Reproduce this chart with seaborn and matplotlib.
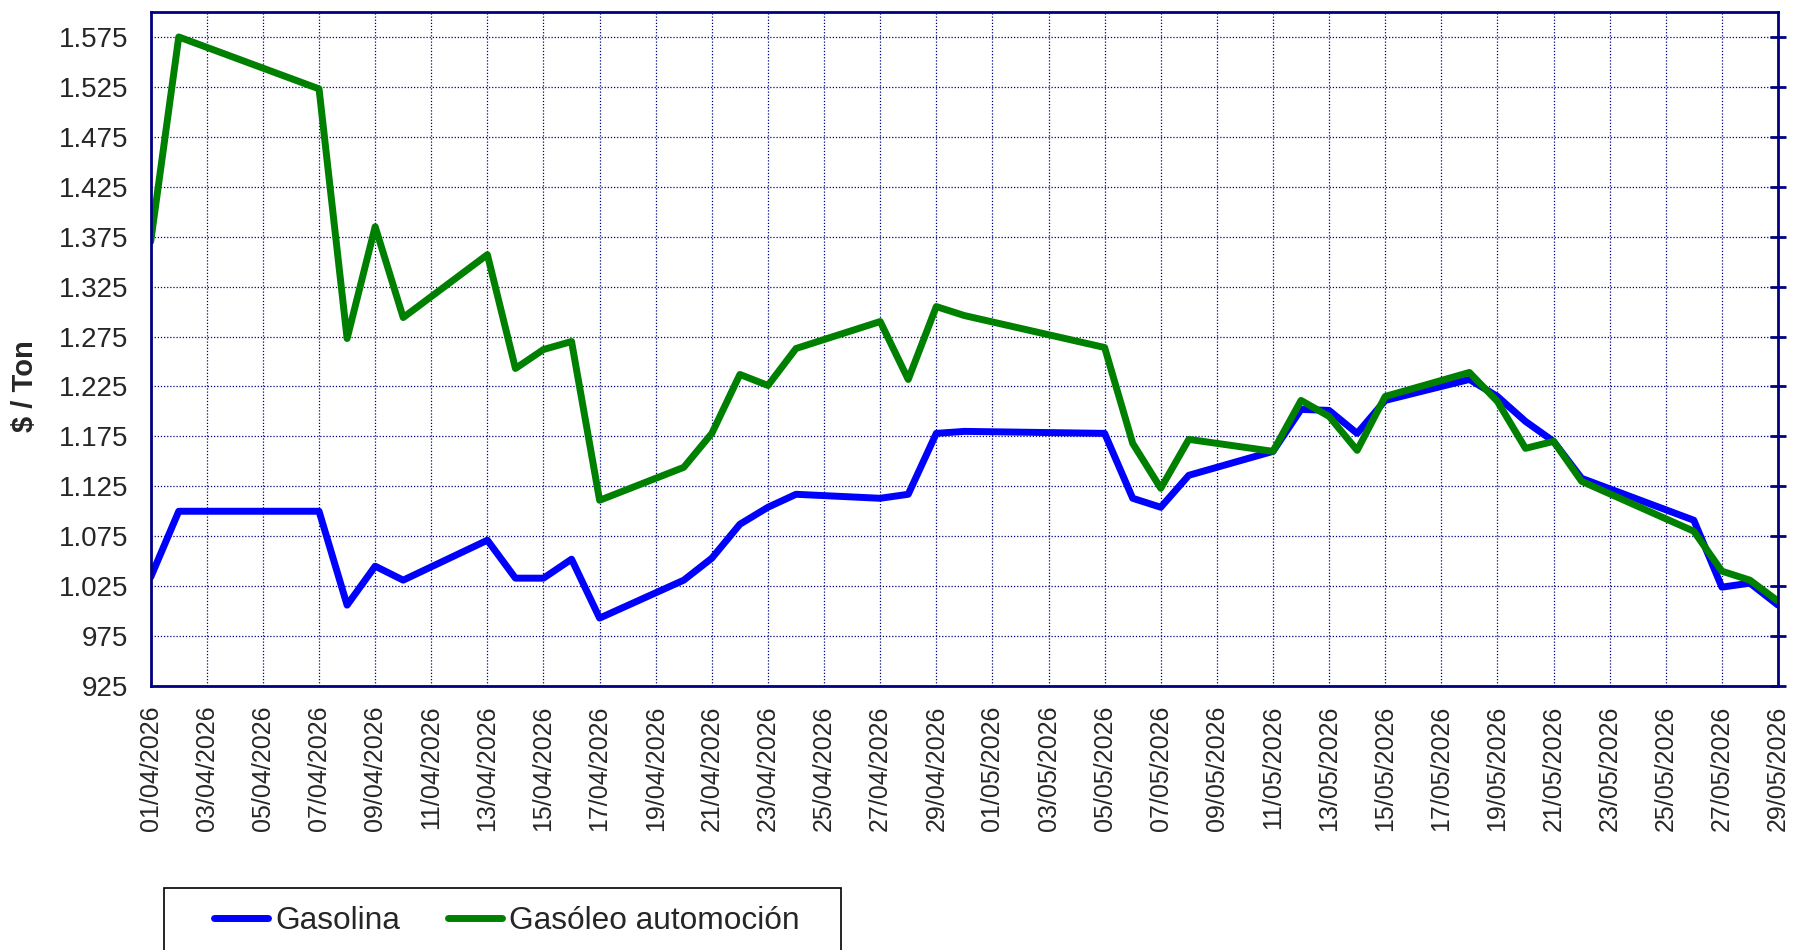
import pandas as pd
import numpy as np
import seaborn as sns
import matplotlib.pyplot as plt
import matplotlib.dates as mdates
from matplotlib.ticker import FuncFormatter
from matplotlib.patches import Rectangle

sns.set_style("white")
plt.rcParams['font.family'] = ['Liberation Sans', 'DejaVu Sans']

# datos ($/Ton)
fechas = ["01/04/2026", "02/04/2026", "07/04/2026", "08/04/2026", "09/04/2026",
          "10/04/2026", "13/04/2026", "14/04/2026", "15/04/2026", "16/04/2026",
          "17/04/2026", "20/04/2026", "21/04/2026", "22/04/2026", "23/04/2026",
          "24/04/2026", "27/04/2026", "28/04/2026", "29/04/2026", "30/04/2026",
          "05/05/2026", "06/05/2026", "07/05/2026", "08/05/2026", "11/05/2026",
          "12/05/2026", "13/05/2026", "14/05/2026", "15/05/2026", "18/05/2026",
          "19/05/2026", "20/05/2026", "21/05/2026", "22/05/2026", "26/05/2026",
          "27/05/2026", "28/05/2026", "29/05/2026"]
gasolina = [1034, 1100, 1100, 1006, 1045, 1031, 1071, 1033, 1033, 1052,
            993, 1031, 1053, 1087, 1104, 1117, 1113, 1117, 1178, 1180,
            1178, 1113, 1104, 1136, 1160, 1202, 1201, 1178, 1211, 1232,
            1215, 1190, 1170, 1133, 1091, 1024, 1028, 1006]
gasoleo = [1370, 1575, 1523, 1273, 1385, 1294, 1357, 1243, 1262, 1270,
           1111, 1144, 1178, 1237, 1226, 1263, 1290, 1232, 1305, 1296,
           1264, 1168, 1123, 1172, 1160, 1211, 1195, 1161, 1215, 1239,
           1210, 1163, 1170, 1130, 1080, 1040, 1031, 1010]
series = ["Gasolina", "Gasóleo automoción"]
colores = ["#0000FF", "#008000"]
y_ticks = [925, 975, 1025, 1075, 1125, 1175, 1225, 1275, 1325, 1375, 1425, 1475, 1525, 1575]

df = pd.DataFrame({"fecha": pd.to_datetime(fechas, format="%d/%m/%Y"),
                   series[0]: gasolina, series[1]: gasoleo})
df_long = df.melt(id_vars="fecha", var_name="producto", value_name="precio")

navy = "#000080"
fig = plt.figure(figsize=(17.95, 9.5), dpi=100)
ax = fig.add_axes([150.7 / 1795, 1 - 686 / 950, (1778 - 150.7) / 1795, (686 - 12) / 950])

sns.lineplot(data=df_long, x="fecha", y="precio", hue="producto", hue_order=series,
             palette=colores, linewidth=5, legend=False, ax=ax)

# ejes
ax.set_xlim(pd.Timestamp("2026-04-01"), pd.Timestamp("2026-05-29"))
ax.set_ylim(925, 1600)
ax.set_xticks(pd.date_range("2026-04-01", "2026-05-29", freq="2D"))
ax.xaxis.set_major_formatter(mdates.DateFormatter("%d/%m/%Y"))
ax.set_yticks(y_ticks)
ax.yaxis.set_major_formatter(FuncFormatter(lambda v, p: f"{int(v):,}".replace(",", ".")))
plt.setp(ax.get_xticklabels(), rotation=90, fontsize=18)
plt.setp(ax.get_yticklabels(), fontsize=20)

ax.tick_params(axis="x", direction="out", length=6, width=2, color=navy, pad=8)
ax.tick_params(axis="y", left=False, right=True, labelleft=True, labelright=False,
               direction="inout", length=12, width=2, color=navy, pad=10)

ax.set_xlabel("")
ax.set_ylabel("")
fig.text(25 / 1795, 1 - 386 / 950, "$ / Ton", rotation=90, fontsize=21,
         fontweight="bold", ha="center", va="center")

ax.grid(True, color=navy, linestyle=(0, (1, 1.5)), linewidth=0.9)
ax.set_axisbelow(True)
for s in ax.spines.values():
    s.set_color(navy)
    s.set_linewidth(2)

# leyenda con marco recortado abajo
fig.add_artist(Rectangle((164 / 1795, -0.02), (841 - 164) / 1795, 1 - 888 / 950 + 0.02,
                         transform=fig.transFigure, fill=False, edgecolor="black",
                         linewidth=1.2, clip_on=False))
fig.legend(ax.get_lines()[:2], series, loc="center left",
           bbox_to_anchor=(214 / 1795, 1 - 921 / 950), ncol=2, frameon=False,
           fontsize=22.8, handlelength=1.69, handletextpad=0.24, columnspacing=1.52,
           borderpad=0, borderaxespad=0)

fig.savefig("out.png", dpi=100)
